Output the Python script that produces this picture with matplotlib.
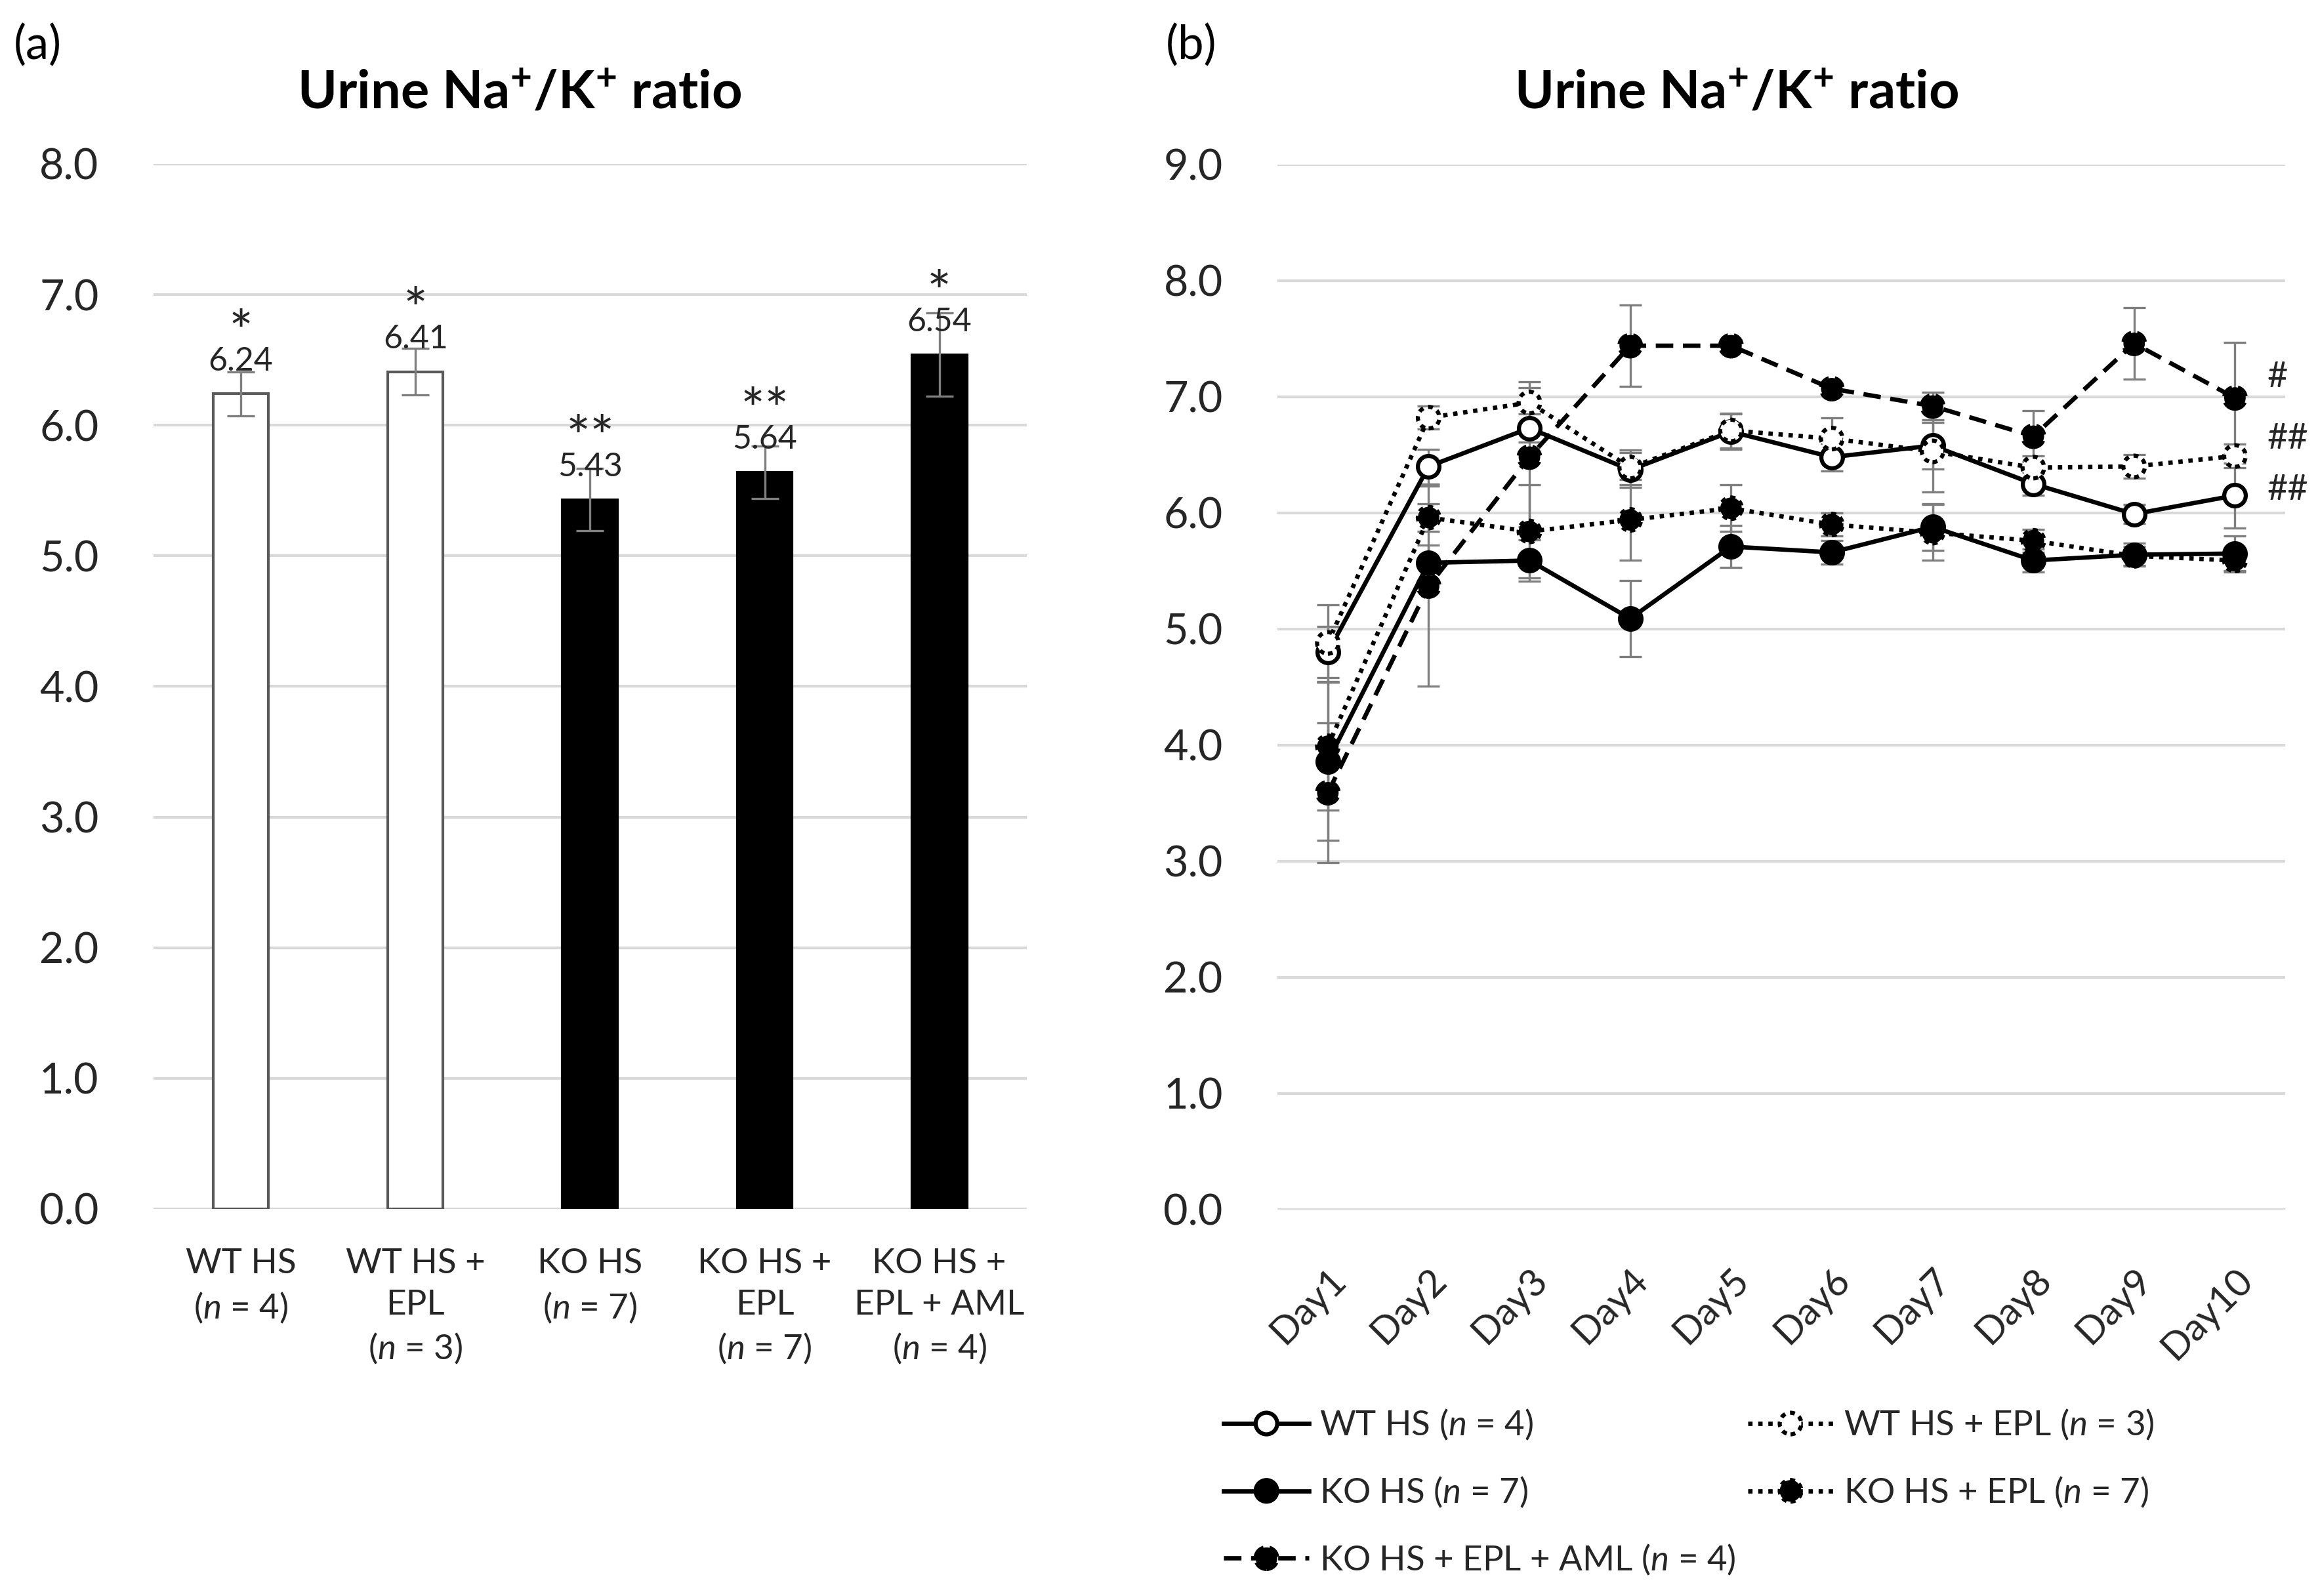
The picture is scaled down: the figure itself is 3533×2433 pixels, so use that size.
import numpy as np
import matplotlib
matplotlib.use('Agg')
import matplotlib.pyplot as plt
from matplotlib.lines import Line2D
from matplotlib.patches import Circle
from matplotlib.legend_handler import HandlerBase

plt.rcParams['font.family'] = ['Lato', 'DejaVu Sans']
plt.rcParams['mathtext.fontset'] = 'custom'
plt.rcParams['mathtext.rm'] = 'Lato'
plt.rcParams['mathtext.it'] = 'Lato:italic'
plt.rcParams['mathtext.bf'] = 'Lato:bold'

# --- data: panel (a) ---
bar_labels = ['WT HS\n($\\mathit{n}$ = 4)',
              'WT HS +\nEPL\n($\\mathit{n}$ = 3)',
              'KO HS\n($\\mathit{n}$ = 7)',
              'KO HS +\nEPL\n($\\mathit{n}$ = 7)',
              'KO HS +\nEPL + AML\n($\\mathit{n}$ = 4)']
bar_values = [6.24, 6.41, 5.43, 5.64, 6.54]
bar_errors = [0.17, 0.18, 0.24, 0.20, 0.32]
bar_stars = ['*', '*', '**', '**', '*']
bar_filled = [False, False, True, True, True]

# --- data: panel (b) ---
days = ['Day1', 'Day2', 'Day3', 'Day4', 'Day5', 'Day6', 'Day7', 'Day8', 'Day9', 'Day10']
wt_hs = [4.80, 6.40, 6.73, 6.37, 6.70, 6.48, 6.58, 6.25, 5.99, 6.15]
wt_hs_err = [0.22, 0.15, 0.12, 0.15, 0.15, 0.12, 0.20, 0.10, 0.08, 0.28]
wt_epl = [4.88, 6.82, 6.95, 6.39, 6.71, 6.64, 6.53, 6.39, 6.40, 6.49]
wt_epl_err = [0.33, 0.10, 0.18, 0.15, 0.15, 0.18, 0.35, 0.10, 0.10, 0.10]
ko_hs = [3.86, 5.57, 5.59, 5.09, 5.71, 5.66, 5.88, 5.59, 5.64, 5.65]
ko_hs_err = [0.68, 0.15, 0.18, 0.33, 0.18, 0.10, 0.20, 0.10, 0.10, 0.15]
ko_epl = [3.99, 5.96, 5.84, 5.94, 6.04, 5.90, 5.83, 5.76, 5.63, 5.59]
ko_epl_err = [0.55, 0.12, 0.40, 0.35, 0.20, 0.10, 0.24, 0.10, 0.08, 0.10]
ko_aml = [3.59, 5.37, 6.48, 7.44, 7.44, 7.07, 6.92, 6.66, 7.46, 6.99]
ko_aml_err = [0.60, 0.86, 0.60, 0.35, 0.05, 0.05, 0.12, 0.22, 0.31, 0.48]
sig_marks = ['#', '##', '##']
sig_y = [7.17, 6.64, 6.20]

GRID = '#d9d9d9'
ERR = '#7f7f7f'
TXT = '#262626'


class LineMarkerHandler(HandlerBase):
    """Legend entry: the series line with one marker in the middle (edge may be dashed)."""
    def __init__(self, line_ls, face, edge_ls):
        super().__init__()
        self.line_ls = line_ls
        self.face = face
        self.edge_ls = edge_ls

    def create_artists(self, legend, orig_handle, xdescent, ydescent,
                       width, height, fontsize, trans):
        y = height / 2 - ydescent
        line = Line2D([-xdescent, -xdescent + width], [y, y], color='black',
                      linewidth=1.6, linestyle=self.line_ls, transform=trans)
        dot = Circle((-xdescent + width / 2, y), radius=3.95, facecolor=self.face,
                     edgecolor='black', linewidth=1.5, linestyle=self.edge_ls,
                     transform=trans)
        return [line, dot]


fig = plt.figure(figsize=(3533 / 300, 2433 / 300), dpi=300)

# ---------------- panel (a) ----------------
ax1 = fig.add_axes([0.0662, 0.2425, 0.3767, 0.6548])
x = np.arange(len(bar_values))
face = ['black' if f else 'white' for f in bar_filled]
edge = ['black' if f else '#5a5a5a' for f in bar_filled]
ax1.bar(x, bar_values, width=0.315, color=face, edgecolor=edge, linewidth=1.0, zorder=2)
ax1.errorbar(x, bar_values, yerr=bar_errors, fmt='none', ecolor=ERR,
             elinewidth=0.8, capsize=5, capthick=0.8, zorder=3)
for xi, v, s in zip(x, bar_values, bar_stars):
    ax1.annotate(f'{v:.2f}', (xi, v), xytext=(0, 8.6), textcoords='offset points',
                 ha='center', va='baseline', fontsize=12, color=TXT, zorder=4)
    ax1.annotate(s, (xi, v), xytext=(0, 15.5), textcoords='offset points',
                 ha='center', va='baseline', fontsize=21, color=TXT, zorder=4)
ax1.set_xlim(-0.5, len(bar_values) - 0.5)
ax1.set_ylim(0, 8)
ax1.set_yticks(np.arange(0, 8.1, 1.0))
ax1.set_yticklabels([f'{t:.1f}' for t in np.arange(0, 8.1, 1.0)])
ax1.set_xticks(x)
ax1.set_xticklabels(bar_labels, fontsize=12.7, linespacing=1.4)

# ---------------- panel (b) ----------------
ax2 = fig.add_axes([0.5511, 0.2421, 0.4348, 0.6548])
xd = np.arange(len(days))

series = [
    (wt_hs, wt_hs_err, '-', 'white', 'solid', 'WT HS ($\\mathit{n}$ = 4)'),
    (ko_hs, ko_hs_err, '-', 'black', 'solid', 'KO HS ($\\mathit{n}$ = 7)'),
    (ko_aml, ko_aml_err, (0, (4, 2.2)), 'black', (0, (3, 1.5)), 'KO HS + EPL + AML ($\\mathit{n}$ = 4)'),
    (wt_epl, wt_epl_err, (0, (1, 1.3)), 'white', (0, (1.2, 1.2)), 'WT HS + EPL ($\\mathit{n}$ = 3)'),
    (ko_epl, ko_epl_err, (0, (1, 1.3)), 'black', (0, (1.2, 1.2)), 'KO HS + EPL ($\\mathit{n}$ = 7)'),
]
handles, labels, hmap = [], [], {}
for vals, errs, ls, mface, mls, lab in series:
    ax2.errorbar(xd, vals, yerr=errs, fmt='none', ecolor=ERR, elinewidth=0.8,
                 capsize=4, capthick=0.8, zorder=2)
    ln, = ax2.plot(xd, vals, color='black', linestyle=ls, linewidth=1.6, zorder=3)
    ax2.scatter(xd, vals, s=62, facecolor=mface, edgecolor='black',
                linewidth=1.5, linestyle=mls, zorder=4)
    handles.append(ln)
    labels.append(lab)
    hmap[ln] = LineMarkerHandler(ls, mface, mls)

for m, yv in zip(sig_marks, sig_y):
    ax2.text(9.32, yv, m, fontsize=13, ha='left', va='center', color=TXT)

ax2.set_xlim(-0.5, len(days) - 0.5)
ax2.set_ylim(0, 9)
ax2.set_yticks(np.arange(0, 9.1, 1.0))
ax2.set_yticklabels([f'{t:.1f}' for t in np.arange(0, 9.1, 1.0)])
ax2.set_xticks(xd)
ax2.set_xticklabels(days, fontsize=14, rotation=45, ha='right', va='top',
                    rotation_mode='anchor')

for ax in (ax1, ax2):
    for sp in ax.spines.values():
        sp.set_visible(False)
    ax.yaxis.grid(True, color=GRID, linewidth=1.0, zorder=0)
    ax.set_axisbelow(True)
    ax.tick_params(axis='y', length=0, pad=20, labelsize=15.5, labelcolor=TXT)
    ax.tick_params(axis='x', length=0, labelcolor=TXT)
ax1.tick_params(axis='x', pad=14.5)
ax2.tick_params(axis='x', pad=19)

leg = fig.legend(handles, labels, loc='upper left', bbox_to_anchor=(0.528, 0.118),
                 ncol=2, frameon=False, fontsize=12.7, handlelength=2.45,
                 handletextpad=0.3, columnspacing=0.35, labelspacing=0.95,
                 borderpad=0, borderaxespad=0, handler_map=hmap)
for t in leg.get_texts():
    t.set_color(TXT)

# titles and panel letters
title = 'Urine Na$^{\\mathbf{+}}$/K$^{\\mathbf{+}}$ ratio'
fig.text(0.2242, 0.941, title, fontsize=19.5, fontweight='bold', ha='center', va='center')
fig.text(0.749, 0.941, title, fontsize=19.5, fontweight='bold', ha='center', va='center')
fig.text(0.006, 0.9716, '(a)', fontsize=17, ha='left', va='center')
fig.text(0.503, 0.9716, '(b)', fontsize=17, ha='left', va='center')

fig.savefig('out.png', dpi=300)
